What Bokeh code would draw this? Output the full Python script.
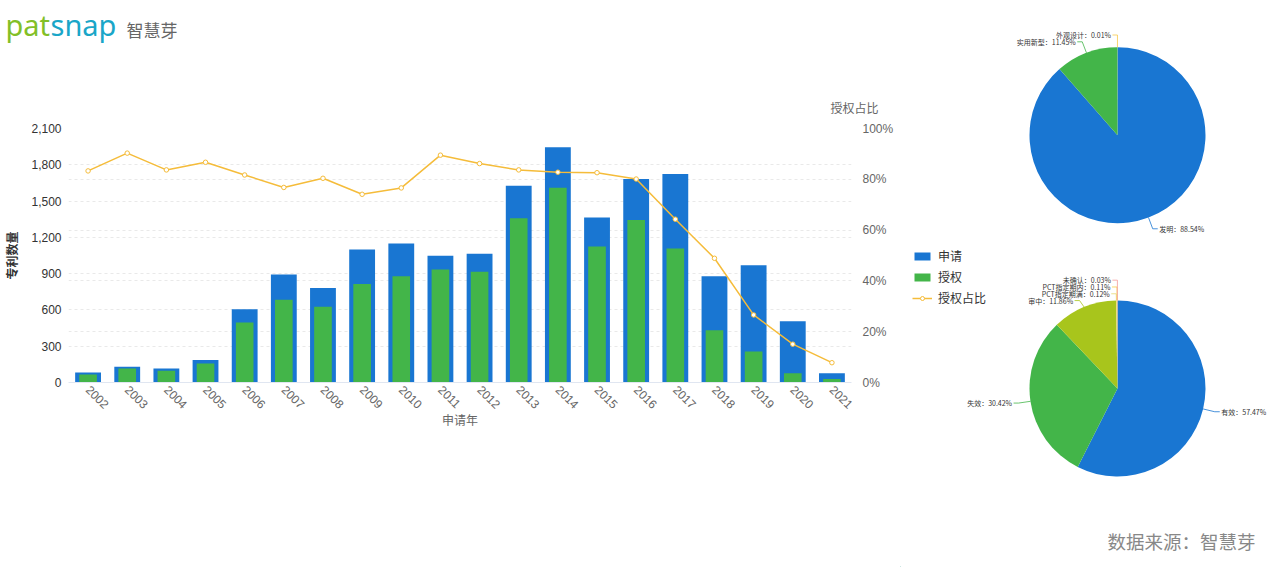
import math
from bokeh.plotting import figure
from bokeh.models import (ColumnDataSource, Range1d, LinearAxis, FixedTicker,
                          NumeralTickFormatter, Legend, LegendItem, Label, Grid, Title)
from bokeh.layouts import row, column
from bokeh.embed import file_html
from bokeh.resources import INLINE
from bokeh.core.properties import value

# ---------------- data ----------------
years = [str(y) for y in range(2002, 2022)]
applications = [83, 130, 116, 185, 605, 892, 782, 1100, 1149, 1047,
                1064, 1627, 1945, 1365, 1683, 1724, 879, 970, 506, 77]
grants = [66, 116, 97, 157, 497, 685, 627, 815, 879, 934,
          915, 1359, 1611, 1125, 1343, 1108, 431, 257, 77, 28]
grant_ratio = [0.833, 0.903, 0.837, 0.867, 0.817, 0.768, 0.804, 0.741, 0.766, 0.895,
               0.862, 0.837, 0.828, 0.826, 0.801, 0.643, 0.489, 0.266, 0.151, 0.078]
count_ticks = [0, 300, 600, 900, 1200, 1500, 1800, 2100]
ratio_ticks = [0, 0.2, 0.4, 0.6, 0.8, 1.0]
series_names = ["申请", "授权", "授权占比"]

type_names = ["发明", "实用新型", "外观设计"]
type_pct = [88.54, 11.45, 0.01]
status_names = ["有效", "失效", "审中", "PCT指定期满", "PCT指定期内", "未确认"]
status_pct = [57.47, 30.42, 11.86, 0.12, 0.11, 0.03]

# ---------------- styles ----------------
BLUE = "#1976D2"
GREEN = "#43B549"
LINE = "#F5BC3A"
CJK = "Noto Sans CJK SC"
LAT = "Liberation Sans"
type_colors = [BLUE, GREEN, "#F7C948"]
status_colors = [BLUE, GREEN, "#A8C51C", "#E8D870", "#F7C948", "#F29A9A"]

PAGE_W, PAGE_H = 1268, 567
HEAD_H = 60
W1 = 900
W2 = PAGE_W - W1
H1 = PAGE_H - HEAD_H
FL, FR, FT, FB = 64, 851, 128, 382   # frame edges on page

# ---------------- header (logo) ----------------
hd = figure(width=W1, height=HEAD_H, x_range=Range1d(0, W1), y_range=Range1d(0, HEAD_H),
            output_backend="svg", toolbar_location=None, min_border=0,
            x_axis_type=None, y_axis_type=None)
hd.grid.visible = False
hd.outline_line_color = None
hd.frame_align = False
hd.add_layout(Label(x=5, y=HEAD_H - 24, text="pat", text_baseline="alphabetic",
                    text_font="Noto Sans", text_font_size="29px", text_color="#82BF27"))
hd.add_layout(Label(x=50, y=HEAD_H - 24, text="snap", text_baseline="alphabetic",
                    text_font="Noto Sans", text_font_size="29px", text_color="#1AA6C8"))
hd.add_layout(Label(x=126, y=HEAD_H - 29, text="智慧芽", text_baseline="middle",
                    text_font=CJK, text_font_size="17px", text_color="#666666"))

# ---------------- bar / line chart ----------------
src = ColumnDataSource(dict(year=years, app=applications, grant=grants, ratio=grant_ratio))

p = figure(x_range=years, y_range=Range1d(0, 2100), width=W1, height=H1,
           output_backend="svg", toolbar_location=None,
           min_border_left=FL, min_border_right=W1 - FR,
           min_border_top=FT - HEAD_H, min_border_bottom=H1 - (FB - HEAD_H))
p.frame_align = False
p.outline_line_color = None
p.extra_y_ranges = {"pct": Range1d(0, 1)}

p.title = Title(text="授权占比", align="right", offset=-27, standoff=25,
                text_font=CJK, text_font_size="12px", text_font_style="normal",
                text_color="#666666")

p.xgrid.visible = False
p.ygrid.ticker = FixedTicker(ticks=count_ticks)
p.ygrid.grid_line_color = "#E9E9E9"
p.ygrid.grid_line_dash = "3 3"

yl = p.yaxis[0]
yl.ticker = FixedTicker(ticks=count_ticks)
yl.formatter = NumeralTickFormatter(format="0,0")
yl.axis_line_color = None
yl.major_tick_line_color = None
yl.minor_tick_line_color = None
yl.major_tick_out = 0
yl.minor_tick_out = 0
yl.major_label_text_font = LAT
yl.major_label_text_font_size = "12px"
yl.major_label_text_color = "#333333"
yl.major_label_standoff = 7
yl.axis_label = "专利数量"
yl.axis_label_text_font = CJK
yl.axis_label_text_font_size = "12px"
yl.axis_label_text_font_style = "bold"
yl.axis_label_text_color = "#333333"
yl.axis_label_standoff = 8

yr = LinearAxis(y_range_name="pct", ticker=FixedTicker(ticks=ratio_ticks),
                formatter=NumeralTickFormatter(format="0%"))
yr.axis_line_color = None
yr.major_tick_line_color = None
yr.minor_tick_line_color = None
yr.major_tick_out = 0
yr.minor_tick_out = 0
yr.major_label_text_font = LAT
yr.major_label_text_font_size = "12px"
yr.major_label_text_color = "#666666"
yr.major_label_standoff = 11
p.add_layout(yr, "right")

g2 = Grid(dimension=1, ticker=FixedTicker(ticks=ratio_ticks), y_range_name="pct",
          grid_line_color="#E9E9E9", grid_line_dash="3 3")
p.add_layout(g2)

xa = p.xaxis[0]
xa.axis_line_color = "#E0E6F1"
xa.major_tick_line_color = None
xa.minor_tick_line_color = None
xa.major_tick_out = 0
xa.minor_tick_out = 0
xa.major_label_orientation = -math.pi / 4
xa.major_label_text_font = LAT
xa.major_label_text_font_size = "12px"
xa.major_label_text_color = "#666666"
xa.major_label_standoff = 5
xa.axis_label = "申请年"
xa.axis_label_text_font = CJK
xa.axis_label_text_font_size = "12px"
xa.axis_label_text_font_style = "normal"
xa.axis_label_text_color = "#666666"
xa.axis_label_standoff = -5

p.vbar(x="year", top="app", width=0.66, source=src, fill_color=BLUE, line_color=None)
p.vbar(x="year", top="grant", width=0.45, source=src, fill_color=GREEN, line_color=None)
p.line(x="year", y="ratio", source=src, y_range_name="pct", line_color=LINE, line_width=1.5)
p.scatter(x="year", y="ratio", source=src, y_range_name="pct", size=4.5,
          fill_color="white", line_color=LINE, line_width=1)

# ---------------- right part: legend + pies ----------------
X0 = W1
q = figure(width=W2, height=PAGE_H, x_range=Range1d(X0, X0 + W2), y_range=Range1d(0, PAGE_H),
           output_backend="svg", toolbar_location=None, min_border=0,
           x_axis_type=None, y_axis_type=None)
q.frame_align = False
q.grid.visible = False
q.outline_line_color = None

# legend key glyphs (same styles as the series at left); their one point lies outside the view
off = X0 - 1000
lg1 = q.vbar(x=[off], top=[1], width=1, fill_color=BLUE, line_color=None)
lg2 = q.vbar(x=[off], top=[1], width=1, fill_color=GREEN, line_color=None)
lg3 = q.line(x=[off, off - 1], y=[1, 1], line_color=LINE, line_width=1.5)
lg4 = q.scatter(x=[off], y=[1], size=7, fill_color="white", line_color=LINE, line_width=1)
legend = Legend(items=[LegendItem(label=series_names[0], renderers=[lg1]),
                       LegendItem(label=series_names[1], renderers=[lg2]),
                       LegendItem(label=series_names[2], renderers=[lg3, lg4])],
                location=(12, PAGE_H - 306), glyph_width=20, glyph_height=10,
                label_text_font=CJK, label_text_font_size="12px", label_text_color="#333333",
                label_height=12, label_standoff=6, spacing=4, padding=0, margin=0,
                border_line_color=None, background_fill_alpha=0)
q.add_layout(legend)


def py(page_y):
    return PAGE_H - page_y


def draw_pie(names, pcts, colors, cx, cy_page, r, L1=12, L2=5, gap=6.8):
    total = sum(pcts)
    starts, ends, mids = [], [], []
    cum = 0.0
    for v in pcts:
        f0 = cum / total
        f1 = (cum + v) / total
        starts.append(math.pi / 2 - 2 * math.pi * f0)
        ends.append(math.pi / 2 - 2 * math.pi * f1)
        mids.append((f0 + f1) / 2)
        cum += v
    q.wedge(x=[cx] * len(pcts), y=[py(cy_page)] * len(pcts), radius=r,
            start_angle=starts, end_angle=ends, direction="clock",
            fill_color=colors, line_color=None)
    items = []
    for i, fm in enumerate(mids):
        dx = math.sin(2 * math.pi * fm)
        dy = -math.cos(2 * math.pi * fm)          # page y grows downward
        side = 1 if dx > 1e-9 else -1
        items.append(dict(i=i, side=side,
                          ex=cx + r * dx, ey=cy_page + r * dy,
                          bx=cx + (r + L1) * dx, ny=cy_page + (r + L1) * dy))
    # spread overlapping labels on each side, centred on their natural positions
    for side in (-1, 1):
        grp = sorted([it for it in items if it["side"] == side], key=lambda t: t["ny"])
        clusters = []

        def place(cl):
            n = len(cl)
            m = sum(t["ny"] for t in cl) / n
            for k, t in enumerate(cl):
                t["by"] = m - (n - 1) / 2 * gap + k * gap

        for it in grp:
            clusters.append([it])
            place(clusters[-1])
            while len(clusters) > 1 and clusters[-1][0]["by"] < clusters[-2][-1]["by"] + gap:
                last = clusters.pop()
                clusters[-1].extend(last)
                place(clusters[-1])
    xs, ys, lc = [], [], []
    for side, align in ((-1, "right"), (1, "left")):
        tx, ty, tt = [], [], []
        for it in items:
            if it["side"] != side:
                continue
            endx = it["bx"] + side * L2
            xs.append([it["ex"], it["bx"], endx])
            ys.append([py(it["ey"]), py(it["by"]), py(it["by"])])
            lc.append(colors[it["i"]])
            tx.append(endx + side * 1.5)
            ty.append(py(it["by"]))
            tt.append(f"{names[it['i']]}：{pcts[it['i']]:.2f}%")
        if tx:
            q.text(x=tx, y=ty, text=tt, text_align=align, text_baseline="middle",
                   text_font=value(CJK), text_font_size=value("7px"), text_color="#333333")
    q.multi_line(xs=xs, ys=ys, line_color=lc, line_width=0.8)


draw_pie(type_names, type_pct, type_colors, 1117, 134.7, 88)
draw_pie(status_names, status_pct, status_colors, 1117, 388, 88)

q.add_layout(Label(x=1255, y=py(540), text="数据来源：智慧芽", text_align="right",
                   text_baseline="middle", text_font=CJK, text_font_size="18.5px",
                   text_color="#888888"))

layout = row(column(hd, p), q)
open("out.html", "w").write(file_html(layout, INLINE))
